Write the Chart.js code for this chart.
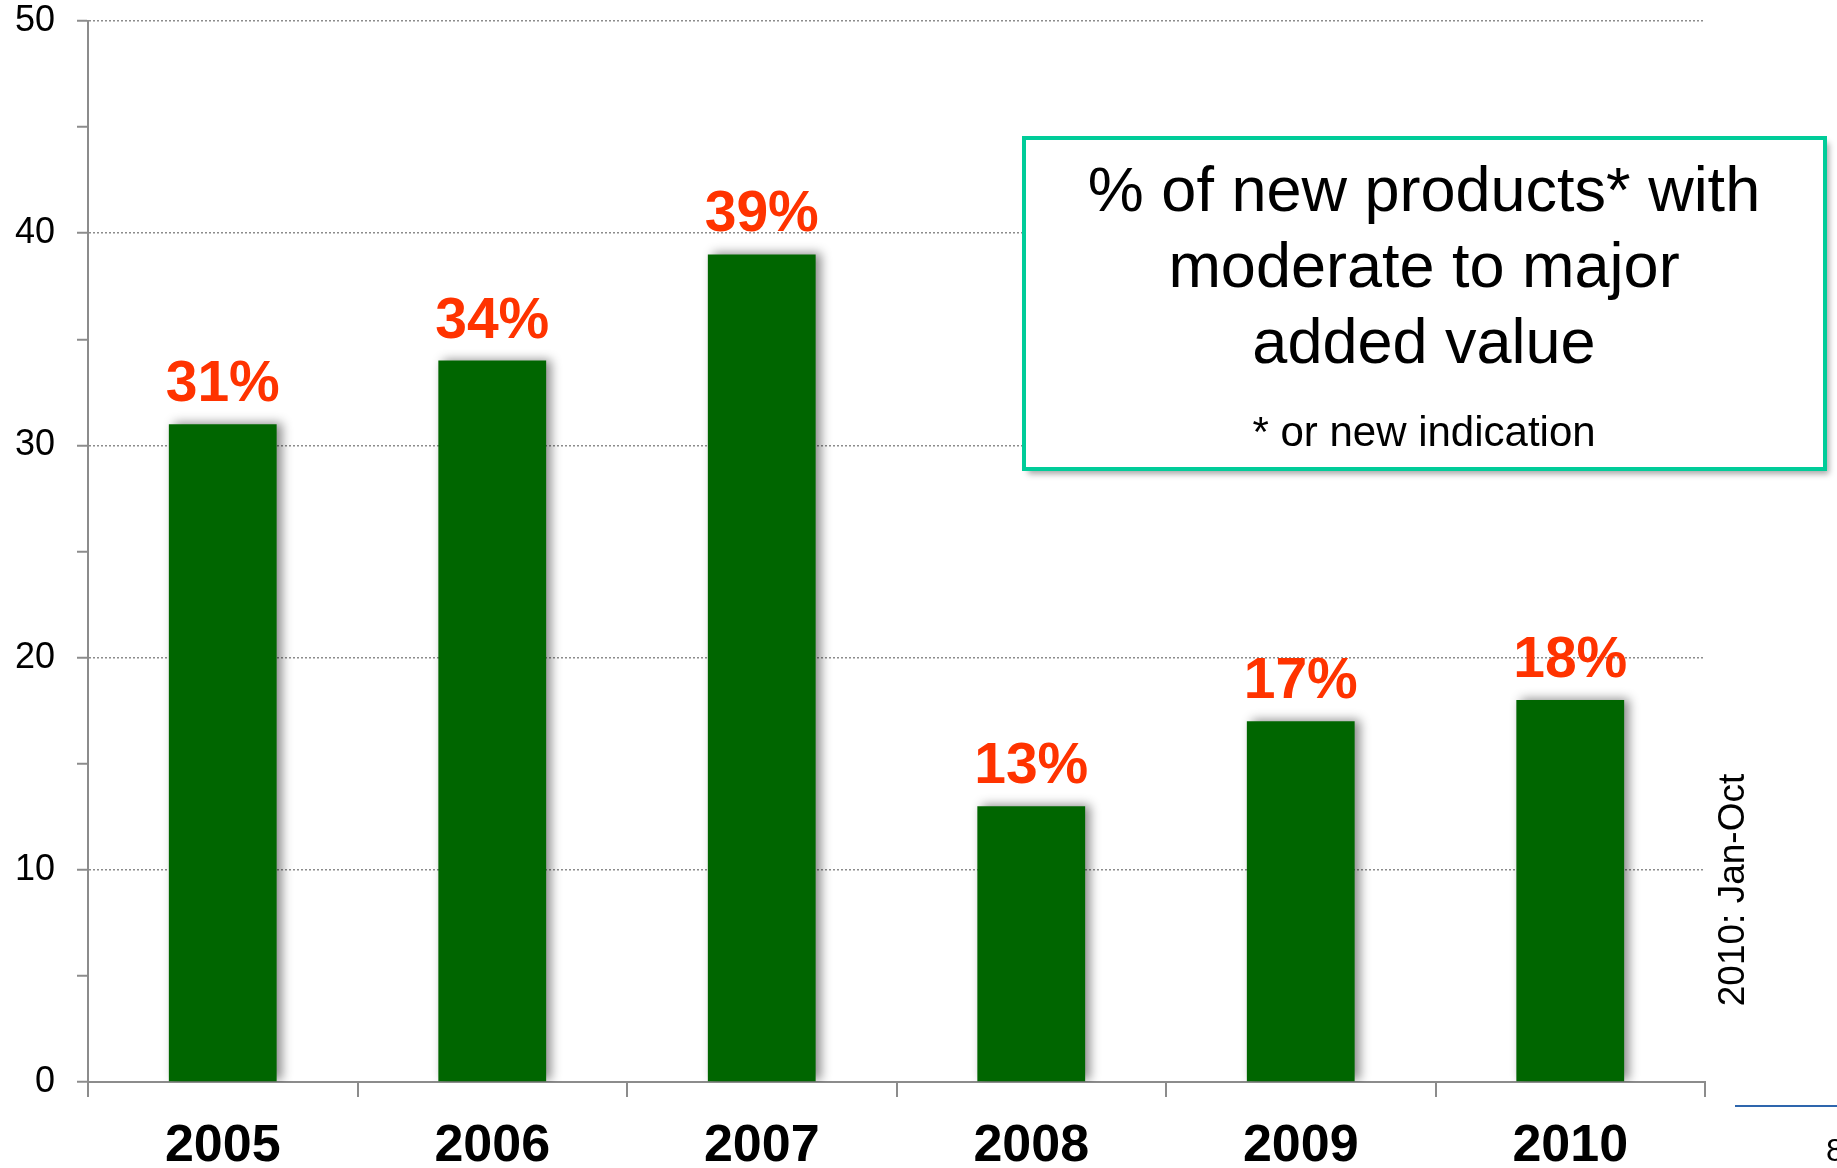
<!DOCTYPE html>
<html>
<head>
<meta charset="utf-8">
<script src="https://cdn.jsdelivr.net/npm/chart.js@4"></script>
<style>
  body { margin: 0; background: #fff; }
  #wrap { width: 1837px; height: 1168px; position: relative; }
</style>
</head>
<body>
<div id="wrap"><canvas id="myChart"></canvas></div>
<script>
var years = ['2005', '2006', '2007', '2008', '2009', '2010'];
var shareValues = [31, 34, 39, 13, 17, 18];
var valueLabels = ['31%', '34%', '39%', '13%', '17%', '18%'];
var boxLines = ['% of new products* with', 'moderate to major', 'added value'];
var boxNote = '* or new indication';
var sideNote = '2010: Jan-Oct';

var ctx = document.getElementById('myChart');

// soft shadow behind the bars
var barShadow = {
  id: 'barShadow',
  beforeDatasetDraw: function(chart) {
    var c = chart.ctx;
    c.save();
    c.shadowColor = 'rgba(0,0,0,0.45)';
    c.shadowBlur = 10;
    c.shadowOffsetX = 5;
    c.shadowOffsetY = -1;
  },
  afterDatasetDraw: function(chart) {
    chart.ctx.restore();
  }
};

var decorations = {
  id: 'decorations',
  afterDraw: function(chart) {
    var c = chart.ctx;
    var meta = chart.getDatasetMeta(0);

    // value labels above bars
    c.save();
    c.fillStyle = '#ff3300';
    c.font = 'bold 57px "Liberation Sans", Arial, sans-serif';
    c.textAlign = 'center';
    c.textBaseline = 'alphabetic';
    meta.data.forEach(function(bar, i) {
      c.fillText(valueLabels[i], bar.x, bar.y - 23);
    });
    c.restore();

    // legend-like text box
    c.save();
    c.shadowColor = 'rgba(0,0,0,0.35)';
    c.shadowBlur = 6;
    c.shadowOffsetX = 4;
    c.shadowOffsetY = 5;
    c.fillStyle = '#fff';
    c.fillRect(1024, 138, 801, 331);
    c.restore();
    c.save();
    c.strokeStyle = '#00cc99';
    c.lineWidth = 4;
    c.strokeRect(1024, 138, 801, 331);
    c.fillStyle = '#000';
    c.textAlign = 'center';
    c.font = '63px "Liberation Sans", Arial, sans-serif';
    boxLines.forEach(function(t, i) {
      c.fillText(t, 1424, 211 + i * 76);
    });
    c.font = '42px "Liberation Sans", Arial, sans-serif';
    c.fillText(boxNote, 1424, 446);
    c.restore();

    // rotated side note
    c.save();
    c.translate(1734, 890);
    c.rotate(-Math.PI / 2);
    c.fillStyle = '#000';
    c.font = '37px "Liberation Sans", Arial, sans-serif';
    c.textAlign = 'center';
    c.textBaseline = 'middle';
    c.fillText(sideNote, 0, 0);
    c.restore();

    // slide footer bits
    c.save();
    c.strokeStyle = '#2e66ad';
    c.lineWidth = 2;
    c.beginPath();
    c.moveTo(1735, 1106);
    c.lineTo(1837, 1106);
    c.stroke();
    c.fillStyle = '#000';
    c.font = '32px "Liberation Sans", Arial, sans-serif';
    c.textAlign = 'left';
    c.fillText('8', 1826, 1161);
    c.restore();
  }
};

var dataObj = {
  type: 'bar',
  data: {
    labels: years,
    datasets: [{
      data: shareValues,
      backgroundColor: '#006600',
      borderWidth: 0,
      categoryPercentage: 0.4,
      barPercentage: 1.0
    }]
  },
  options: {
    responsive: true,
    maintainAspectRatio: false,
    animation: false,
    layout: { padding: { top: 21, right: 132, left: 0, bottom: 0 } },
    plugins: {
      legend: { display: false },
      tooltip: { enabled: false }
    },
    scales: {
      x: {
        afterFit: function(scale) {
          scale.height = 86;
          scale.paddingLeft = 0;
          scale.paddingRight = 0;
        },
        grid: {
          offset: true,
          drawOnChartArea: false,
          tickLength: 15,
          color: '#8c8c8c',
          lineWidth: 2
        },
        border: { color: '#8c8c8c', width: 2 },
        ticks: {
          color: '#000',
          padding: 18,
          font: { family: '"Liberation Sans", Arial, sans-serif', size: 52, weight: 'bold' }
        }
      },
      y: {
        min: 0,
        max: 50,
        afterFit: function(scale) {
          scale.width = 88;
          scale.paddingTop = 0;
          scale.paddingBottom = 0;
        },
        grid: {
          color: function(c) { return c.tick && c.tick.value % 10 === 0 ? '#8c8c8c' : 'rgba(0,0,0,0)'; },
          lineWidth: 1.5,
          tickColor: '#8c8c8c',
          tickLength: 11,
          tickWidth: 2,
          tickBorderDash: []
        },
        border: { color: '#8c8c8c', width: 2, dash: [2, 2] },
        ticks: {
          stepSize: 5,
          autoSkip: false,
          color: '#000',
          padding: 22,
          font: { family: '"Liberation Sans", Arial, sans-serif', size: 36 },
          callback: function(v) { return v % 10 === 0 ? v : ''; }
        }
      }
    }
  },
  plugins: [barShadow, decorations]
};

var myChart = new Chart(ctx, dataObj);
</script>
</body>
</html>
